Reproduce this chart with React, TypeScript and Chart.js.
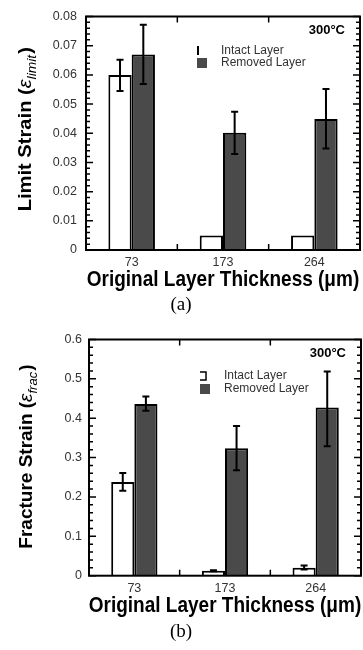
import { useEffect, useRef } from "react";
import { Chart, registerables } from "chart.js";

Chart.register(...registerables);

// ---------- data ----------
const categories = ["73", "173", "264"];

// (a) Limit strain
const limitIntact = [0.06, 0.005, 0.005];
const limitIntactLow: (number | null)[] = [0.0545, null, null];
const limitIntactHigh: (number | null)[] = [0.0652, null, null];
const limitRemoved = [0.067, 0.0402, 0.0449];
const limitRemovedLow: (number | null)[] = [0.0569, 0.0329, 0.0348];
const limitRemovedHigh: (number | null)[] = [0.0772, 0.0474, 0.0552];
const limitTickLabels = ["0", "0.01", "0.02", "0.03", "0.04", "0.05", "0.06", "0.07", "0.08"];

// (b) Fracture strain
const fracIntact = [0.238, 0.0125, 0.02];
const fracIntactLow: (number | null)[] = [0.216, 0.011, 0.016];
const fracIntactHigh: (number | null)[] = [0.261, 0.014, 0.026];
const fracRemoved = [0.436, 0.324, 0.427];
const fracRemovedLow: (number | null)[] = [0.419, 0.268, 0.329];
const fracRemovedHigh: (number | null)[] = [0.455, 0.38, 0.519];
const fracTickLabels = ["0", "0.1", "0.2", "0.3", "0.4", "0.5", "0.6"];

const seriesNames = ["Intact Layer", "Removed Layer"];
const tempLabel = "300°C";
const xTitle = "Original Layer Thickness (μm)";

const SANS = '"Liberation Sans", Arial, sans-serif';
const SERIF = '"Liberation Serif", "Times New Roman", serif';

type Spec = {
  height: number;
  plotLeft: number;
  plotTop: number;
  plotRight: number;
  plotBottom: number;
  yMax: number;
  yStep: number;
  minorStep: number;
  tickLabels: string[];
  yPad: number;
  intact: number[];
  removed: number[];
  errors: { low: (number | null)[]; high: (number | null)[] }[];
  yTitleMain: string;
  yTitleSub: string;
  yTitleX: number;
  yTitleShift: number;
  yTitleStretch: number;
  legendStyle: "line" | "bracket";
  legendRows: [number, number];
  caption: string;
  captionY: number;
  xTitleY: number;
};

function drawYTitle(
  ctx: CanvasRenderingContext2D,
  bx: number,
  cy: number,
  main: string,
  sub: string,
  stretch: number
) {
  const fMain = `bold 19px ${SANS}`;
  const fEps = `italic 19px ${SANS}`;
  const fSub = `italic 13px ${SANS}`;
  const p1 = main + " (";
  ctx.font = fMain;
  const w1 = ctx.measureText(p1).width;
  const wP = ctx.measureText(")").width;
  ctx.font = fEps;
  const wE = ctx.measureText("ε").width;
  ctx.font = fSub;
  const wS = ctx.measureText(sub).width;
  const total = w1 + wE + wS + wP + 1;
  ctx.save();
  ctx.translate(bx, cy);
  ctx.rotate(-Math.PI / 2);
  ctx.scale(stretch, 1);
  ctx.fillStyle = "#000";
  ctx.textBaseline = "alphabetic";
  ctx.textAlign = "left";
  let x = -total / 2;
  ctx.font = fMain;
  ctx.fillText(p1, x, 0);
  x += w1;
  ctx.font = fEps;
  ctx.fillText("ε", x, 0);
  x += wE;
  ctx.font = fSub;
  ctx.fillText(sub, x, 5);
  x += wS + 1;
  ctx.font = fMain;
  ctx.fillText(")", x, 0);
  ctx.restore();
}

function buildChart(canvas: HTMLCanvasElement, s: Spec) {
  const decor = {
    id: "decor",
    afterDatasetsDraw(chart: any) {
      const ctx: CanvasRenderingContext2D = chart.ctx;
      const { left, right, top, bottom } = chart.chartArea;
      const xs = chart.scales.x;
      const ys = chart.scales.y;
      ctx.save();
      // error bars
      ctx.strokeStyle = "#000";
      ctx.lineWidth = 2;
      s.errors.forEach((err, d) => {
        const meta = chart.getDatasetMeta(d);
        meta.data.forEach((bar: any, i: number) => {
          const lo = err.low[i];
          const hi = err.high[i];
          if (lo == null || hi == null) return;
          const px = bar.x;
          const y1 = ys.getPixelForValue(lo);
          const y2 = ys.getPixelForValue(hi);
          ctx.beginPath();
          ctx.moveTo(px, y1);
          ctx.lineTo(px, y2);
          ctx.moveTo(px - 3.5, y1);
          ctx.lineTo(px + 3.5, y1);
          ctx.moveTo(px - 3.5, y2);
          ctx.lineTo(px + 3.5, y2);
          ctx.stroke();
        });
      });
      // frame
      ctx.lineWidth = 2;
      ctx.strokeRect(left, top, right - left, bottom - top);
      // y ticks (left and right, inward)
      ctx.lineWidth = 1.5;
      const n = Math.round(s.yMax / s.minorStep);
      const per = Math.round(s.yStep / s.minorStep);
      ctx.beginPath();
      for (let k = 0; k <= n; k++) {
        const py = ys.getPixelForValue(k * s.minorStep);
        const len = k % per === 0 ? 7 : 4;
        ctx.moveTo(left, py);
        ctx.lineTo(left + len, py);
        ctx.moveTo(right, py);
        ctx.lineTo(right - len, py);
      }
      // category boundary ticks top and bottom
      for (let i = 0; i < categories.length - 1; i++) {
        const bx = (xs.getPixelForValue(i) + xs.getPixelForValue(i + 1)) / 2;
        ctx.moveTo(bx, top);
        ctx.lineTo(bx, top + 6);
        ctx.moveTo(bx, bottom);
        ctx.lineTo(bx, bottom - 6);
      }
      ctx.stroke();

      // temperature label
      ctx.fillStyle = "#000";
      ctx.font = `bold 13px ${SANS}`;
      ctx.textAlign = "right";
      ctx.textBaseline = "middle";
      ctx.fillText(tempLabel, right - 15, top + 14);

      // legend
      const [r1, r2] = s.legendRows;
      const ix = left + 111;
      ctx.strokeStyle = "#000";
      ctx.lineWidth = 2;
      if (s.legendStyle === "line") {
        ctx.beginPath();
        ctx.moveTo(ix + 1, r1 - 5);
        ctx.lineTo(ix + 1, r1 + 4);
        ctx.stroke();
      } else {
        ctx.lineWidth = 1.5;
        ctx.beginPath();
        ctx.moveTo(ix, r1 - 4);
        ctx.lineTo(ix + 6, r1 - 4);
        ctx.lineTo(ix + 6, r1 + 4);
        ctx.lineTo(ix, r1 + 4);
        ctx.stroke();
      }
      ctx.fillStyle = "#4a4a4a";
      ctx.fillRect(ix, r2 - 5, 10, 10);
      ctx.fillStyle = "#333";
      ctx.font = `12px ${SANS}`;
      ctx.textAlign = "left";
      ctx.textBaseline = "middle";
      ctx.fillText(seriesNames[0], ix + 24, r1);
      ctx.fillText(seriesNames[1], ix + 24, r2);

      // x-axis title (slightly taller glyphs, as in the reference)
      ctx.fillStyle = "#000";
      ctx.font = `bold 19px ${SANS}`;
      ctx.textAlign = "center";
      ctx.textBaseline = "middle";
      ctx.save();
      ctx.translate((left + right) / 2, s.xTitleY);
      ctx.scale(1, 1.12);
      ctx.fillText(xTitle, 0, 0);
      ctx.restore();

      drawYTitle(
        ctx,
        s.yTitleX,
        (top + bottom) / 2 + s.yTitleShift,
        s.yTitleMain,
        s.yTitleSub,
        s.yTitleStretch
      );

      // caption
      ctx.fillStyle = "#000";
      ctx.font = `19px ${SERIF}`;
      ctx.textAlign = "center";
      ctx.textBaseline = "middle";
      ctx.fillText(s.caption, 181, s.captionY);
      ctx.restore();
    },
  };

  return new Chart(canvas, {
    type: "bar",
    data: {
      labels: categories,
      datasets: [
        {
          label: seriesNames[0],
          data: s.intact,
          backgroundColor: "#ffffff",
          borderColor: "#000000",
          borderWidth: 2,
          categoryPercentage: 0.51,
          barPercentage: 1,
        },
        {
          label: seriesNames[1],
          data: s.removed,
          backgroundColor: "#4a4a4a",
          borderColor: "#000000",
          borderWidth: 2,
          categoryPercentage: 0.51,
          barPercentage: 1,
        },
      ],
    },
    options: {
      responsive: false,
      devicePixelRatio: 1,
      animation: false,
      events: [],
      layout: {
        padding: { left: 0, top: s.plotTop, right: 363 - s.plotRight, bottom: 0 },
      },
      plugins: {
        legend: { display: false },
        tooltip: { enabled: false },
        title: { display: false },
      },
      scales: {
        x: {
          type: "category",
          offset: true,
          grid: { display: false, drawTicks: false },
          border: { display: false },
          ticks: { color: "#333", font: { family: SANS, size: 12.5 }, padding: 5 },
          afterFit: (scale: any) => {
            scale.height = s.height - s.plotBottom;
          },
        },
        y: {
          type: "linear",
          min: 0,
          max: s.yMax,
          grid: { display: false, drawTicks: false },
          border: { display: false },
          ticks: {
            stepSize: s.yStep,
            color: "#333",
            font: { family: SANS, size: 12.5 },
            padding: s.yPad,
            callback: (_v: any, i: number) => s.tickLabels[i] ?? "",
          },
          afterFit: (scale: any) => {
            scale.width = s.plotLeft;
          },
        },
      },
    },
    plugins: [decor],
  } as any);
}

const specA: Spec = {
  height: 325,
  plotLeft: 86,
  plotTop: 12,
  plotRight: 360,
  plotBottom: 250,
  yMax: 0.08,
  yStep: 0.01,
  minorStep: 0.002,
  tickLabels: limitTickLabels,
  yPad: 9,
  intact: limitIntact,
  removed: limitRemoved,
  errors: [
    { low: limitIntactLow, high: limitIntactHigh },
    { low: limitRemovedLow, high: limitRemovedHigh },
  ],
  yTitleMain: "Limit Strain",
  yTitleSub: "limit",
  yTitleX: 31,
  yTitleShift: -4,
  yTitleStretch: 1.06,
  legendStyle: "line",
  legendRows: [51, 63],
  caption: "(a)",
  captionY: 305,
  xTitleY: 280,
};

const specB: Spec = {
  height: 325,
  plotLeft: 89,
  plotTop: 14,
  plotRight: 361,
  plotBottom: 250.7,
  yMax: 0.6,
  yStep: 0.1,
  minorStep: 0.02,
  tickLabels: fracTickLabels,
  yPad: 7,
  intact: fracIntact,
  removed: fracRemoved,
  errors: [
    { low: fracIntactLow, high: fracIntactHigh },
    { low: fracRemovedLow, high: fracRemovedHigh },
  ],
  yTitleMain: "Fracture Strain",
  yTitleSub: "frac",
  yTitleX: 32,
  yTitleShift: -1,
  yTitleStretch: 1.0,
  legendStyle: "bracket",
  legendRows: [51, 64],
  caption: "(b)",
  captionY: 307,
  xTitleY: 281,
};

export default function App() {
  const refA = useRef<HTMLCanvasElement>(null);
  const refB = useRef<HTMLCanvasElement>(null);
  useEffect(() => {
    const a = buildChart(refA.current!, specA);
    const b = buildChart(refB.current!, specB);
    return () => {
      a.destroy();
      b.destroy();
    };
  }, []);
  return (
    <div style={{ position: "absolute", left: 0, top: 0, width: 363, height: 650, background: "#fff" }}>
      <canvas ref={refA} width={363} height={325} style={{ position: "absolute", left: 0, top: 0, width: 363, height: 325 }} />
      <canvas ref={refB} width={363} height={325} style={{ position: "absolute", left: 0, top: 325, width: 363, height: 325 }} />
    </div>
  );
}
